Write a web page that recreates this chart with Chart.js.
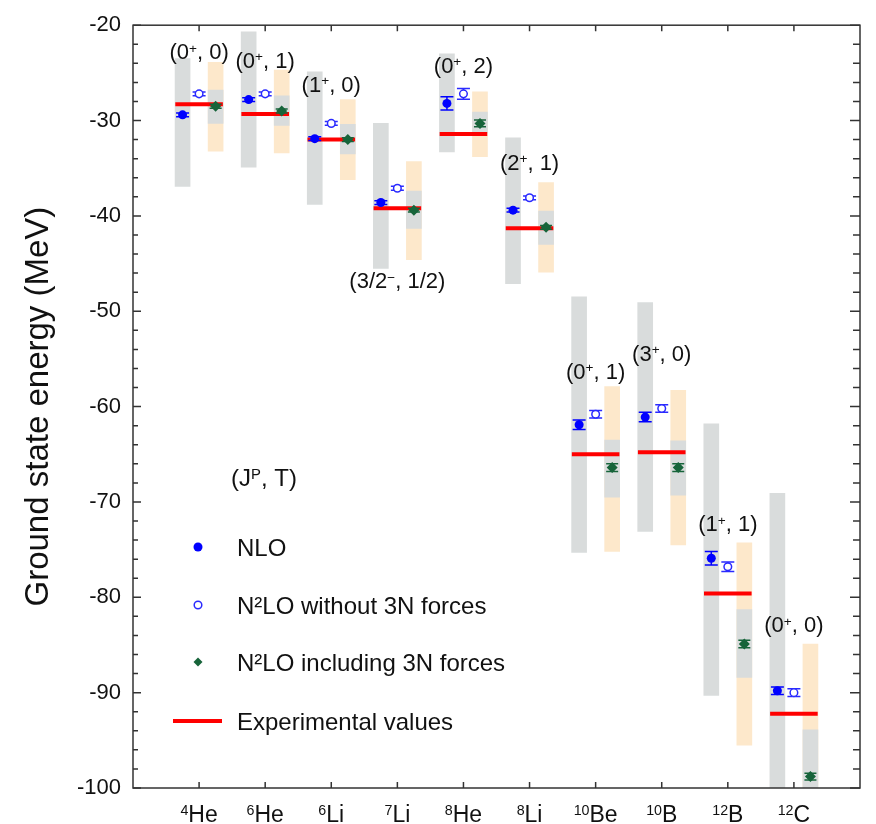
<!DOCTYPE html>
<html>
<head>
<meta charset="utf-8">
<script src="https://cdn.jsdelivr.net/npm/chart.js@4.4.1/dist/chart.umd.min.js"></script>
<style>
    html, body { margin: 0; padding: 0; background: #fff; }
</style>
</head>
<body>
<canvas id="energyChart" width="876" height="824"></canvas>
<script>
// 原子核ごとのラベル
var massNumbers = ['4', '6', '6', '7', '8', '8', '10', '10', '12', '12'];
var elements = ['He', 'He', 'Li', 'Li', 'He', 'Li', 'Be', 'B', 'B', 'C'];
var spins = ['0', '0', '1', '3/2', '0', '2', '0', '3', '1', '0'];
var parities = ['+', '+', '+', '−', '+', '+', '+', '+', '+', '+'];
var isospins = ['0', '1', '0', '1/2', '2', '1', '1', '0', '1', '0'];

// NLO の不確かさ幅 (MeV)
var nloBandLow = [-36.9, -34.9, -38.8, -45.5, -33.3, -47.1, -75.3, -73.1, -90.3, -110.0];
var nloBandHigh = [-23.5, -20.7, -24.9, -30.3, -23.0, -31.8, -48.5, -49.1, -61.8, -69.1];

// N2LO の不確かさ幅 (外側) と 3N 力込みの幅 (内側)
var n2loBandLow = [-33.2, -33.4, -36.2, -44.6, -33.8, -45.9, -75.2, -74.5, -95.5, -112.0];
var n2loBandHigh = [-23.9, -24.7, -27.8, -34.3, -27.0, -36.5, -57.9, -58.3, -74.3, -84.9];
var n2lo3nBandLow = [-30.3, -30.5, -33.5, -41.3, -31.3, -43.0, -69.5, -69.3, -88.4, -103.7];
var n2lo3nBandHigh = [-26.8, -27.4, -30.4, -37.4, -29.1, -39.5, -63.5, -63.6, -81.3, -93.9];

// 中心値と統計誤差
var nloValues = [-29.4, -27.8, -31.9, -38.6, -28.2, -39.4, -61.9, -61.1, -75.9, -89.8];
var nloErrors = [0.2, 0.2, 0.2, 0.2, 0.7, 0.2, 0.5, 0.5, 0.7, 0.4];
var n2loValues = [-27.2, -27.2, -30.3, -37.1, -27.2, -38.1, -60.8, -60.2, -76.8, -90.0];
var n2loErrors = [0.2, 0.2, 0.2, 0.2, 0.57, 0.2, 0.4, 0.4, 0.5, 0.4];
var n2lo3nValues = [-28.5, -29.0, -32.0, -39.4, -30.3, -41.2, -66.4, -66.4, -84.9, -98.8];
var n2lo3nErrors = [0.2, 0.2, 0.2, 0.2, 0.35, 0.2, 0.4, 0.4, 0.4, 0.35];

// 実験値
var expValues = [-28.3, -29.3, -32.0, -39.2, -31.4, -41.3, -65.0, -64.8, -79.6, -92.2];

// 縦軸の目盛りラベル
var yTickLabels = [-20, -30, -40, -50, -60, -70, -80, -90, -100];

var FONT = '"Liberation Sans", Arial, sans-serif';
var TEXT = '#111';
Chart.defaults.font.family = FONT;

// 量子数ラベルの縦位置 (MeV)
var tagY = [-22.8, -23.7, -26.2, -46.8, -24.2, -34.4, -56.3, -54.4, -72.3, -82.9];

// 上付き文字を含むテキストを描く
var drawRich = function (ctx, parts, x, y, size, align) {
    var supSize = size * 0.62;
    var widths = parts.map(function (p) {
        ctx.font = (p[1] ? supSize : size) + 'px ' + FONT;
        return ctx.measureText(p[0]).width;
    });
    var total = widths.reduce(function (a, b) { return a + b; }, 0);
    var cx = align === 'center' ? x - total / 2 : x;
    ctx.textAlign = 'left';
    ctx.textBaseline = 'alphabetic';
    parts.forEach(function (p, i) {
        ctx.font = (p[1] ? supSize : size) + 'px ' + FONT;
        ctx.fillText(p[0], cx, p[1] ? y - size * 0.3 : y);
        cx += widths[i];
    });
};

var bandData = function (low, high, shift) {
    return low.map(function (v, i) { return { x: i + shift, y: [v, high[i]] }; });
};
var pointData = function (values, shift) {
    return values.map(function (v, i) { return { x: i + shift, y: v }; });
};
var expData = [];
expValues.forEach(function (v, i) {
    expData.push({ x: i - 0.36, y: v }, { x: i + 0.36, y: v }, { x: i + 0.5, y: null });
});

// 誤差棒
var errorBars = {
    id: 'errorBars',
    beforeDatasetDraw: function (chart, args) {
        var ds = chart.data.datasets[args.index];
        if (!ds.errors) return;
        var ctx = chart.ctx, yScale = chart.scales.y;
        ctx.save();
        ctx.strokeStyle = ds.borderColor;
        ctx.lineWidth = 1.5;
        args.meta.data.forEach(function (pt, i) {
            var v = ds.data[i].y, e = ds.errors[i];
            var top = yScale.getPixelForValue(v + e), bot = yScale.getPixelForValue(v - e);
            var w = ds.capWidth / 2;
            ctx.beginPath();
            ctx.moveTo(pt.x, top); ctx.lineTo(pt.x, bot);
            ctx.moveTo(pt.x - w, top); ctx.lineTo(pt.x + w, top);
            ctx.moveTo(pt.x - w, bot); ctx.lineTo(pt.x + w, bot);
            ctx.stroke();
        });
        ctx.restore();
    }
};

// 枠と内向きの目盛り
var frame = {
    id: 'frame',
    afterDatasetsDraw: function (chart) {
        var ctx = chart.ctx, ca = chart.chartArea;
        var xScale = chart.scales.x, yScale = chart.scales.y;
        ctx.save();
        ctx.strokeStyle = '#333';
        ctx.lineWidth = 1.5;
        ctx.strokeRect(ca.left, ca.top, ca.right - ca.left, ca.bottom - ca.top);
        ctx.beginPath();
        yScale.ticks.forEach(function (t) {
            var y = yScale.getPixelForValue(t.value);
            var major = yTickLabels.indexOf(t.value) >= 0;
            ctx.moveTo(ca.left, y); ctx.lineTo(ca.left + (major ? 8 : 5), y);
            ctx.moveTo(ca.right, y); ctx.lineTo(ca.right - (major ? 10 : 7), y);
        });
        elements.forEach(function (el, i) {
            var x = xScale.getPixelForValue(i);
            ctx.moveTo(x, ca.bottom); ctx.lineTo(x, ca.bottom - 6);
            ctx.moveTo(x, ca.top); ctx.lineTo(x, ca.top + 6);
        });
        ctx.stroke();
        ctx.restore();
    }
};

// 原子核名・量子数・凡例
var texts = {
    id: 'texts',
    afterDraw: function (chart) {
        var ctx = chart.ctx, ca = chart.chartArea;
        var xScale = chart.scales.x, yScale = chart.scales.y;
        ctx.save();
        ctx.fillStyle = TEXT;

        elements.forEach(function (el, i) {
            var x = xScale.getPixelForValue(i);
            drawRich(ctx, [[massNumbers[i], true], [el, false]], x, ca.bottom + 34, 23, 'center');
            drawRich(ctx, [['(' + spins[i], false], [parities[i], true], [', ' + isospins[i] + ')', false]],
                x, yScale.getPixelForValue(tagY[i]) + 7.5, 22, 'center');
        });

        // 凡例
        var lx = ca.left + 65, tx = ca.left + 104;
        drawRich(ctx, [['(J', false], ['P', true], [', T)', false]], ca.left + 131, 486, 24, 'center');

        ctx.fillStyle = '#0000ff';
        ctx.beginPath(); ctx.arc(lx, 547, 4.5, 0, Math.PI * 2); ctx.fill();

        ctx.strokeStyle = '#2a2aff'; ctx.lineWidth = 1.5; ctx.fillStyle = '#fff';
        ctx.beginPath(); ctx.arc(lx, 605, 3.8, 0, Math.PI * 2); ctx.fill(); ctx.stroke();

        ctx.fillStyle = '#17643a';
        ctx.beginPath();
        ctx.moveTo(lx, 657.5); ctx.lineTo(lx + 4.5, 662); ctx.lineTo(lx, 666.5); ctx.lineTo(lx - 4.5, 662);
        ctx.closePath(); ctx.fill();

        ctx.strokeStyle = '#ff0000'; ctx.lineWidth = 4;
        ctx.beginPath(); ctx.moveTo(ca.left + 40, 721); ctx.lineTo(ca.left + 89, 721); ctx.stroke();

        ctx.fillStyle = TEXT;
        drawRich(ctx, [['NLO', false]], tx, 555.5, 24, 'left');
        drawRich(ctx, [['N²LO without 3N forces', false]], tx, 613.5, 24, 'left');
        drawRich(ctx, [['N²LO including 3N forces', false]], tx, 670.5, 24, 'left');
        drawRich(ctx, [['Experimental values', false]], tx, 729.5, 24, 'left');
        ctx.restore();
    }
};

var ctx = document.getElementById('energyChart');
new Chart(ctx, {
    type: 'bar',
    data: {
        datasets: [{
            type: 'line',
            label: 'NLO',
            data: pointData(nloValues, -0.25),
            errors: nloErrors,
            capWidth: 13,
            showLine: false,
            pointStyle: 'circle',
            pointRadius: 4.5,
            backgroundColor: '#0000ff',
            borderColor: '#0000ff',
            pointBorderWidth: 0,
            order: 0
        }, {
            type: 'line',
            label: 'N2LO without 3N forces',
            data: pointData(n2loValues, 0),
            errors: n2loErrors,
            capWidth: 13,
            showLine: false,
            pointStyle: 'circle',
            pointRadius: 3.8,
            backgroundColor: '#ffffff',
            borderColor: '#2a2aff',
            pointBorderWidth: 1.5,
            order: 0
        }, {
            type: 'line',
            label: 'N2LO including 3N forces',
            data: pointData(n2lo3nValues, 0.25),
            errors: n2lo3nErrors,
            capWidth: 12,
            showLine: false,
            pointStyle: 'rectRot',
            pointRadius: 5.5,
            backgroundColor: '#17643a',
            borderColor: '#17643a',
            pointBorderWidth: 0,
            order: 0
        }, {
            type: 'line',
            label: 'Experimental values',
            data: expData,
            borderColor: '#ff0000',
            borderWidth: 4,
            borderCapStyle: 'butt',
            pointRadius: 0,
            spanGaps: false,
            order: 1
        }, {
            label: 'N2LO 3N band',
            data: bandData(n2lo3nBandLow, n2lo3nBandHigh, 0.25),
            backgroundColor: '#d9dcdc',
            barThickness: 15,
            grouped: false,
            order: 2
        }, {
            label: 'N2LO band',
            data: bandData(n2loBandLow, n2loBandHigh, 0.25),
            backgroundColor: '#fde8cb',
            barThickness: 15,
            grouped: false,
            order: 3
        }, {
            label: 'NLO band',
            data: bandData(nloBandLow, nloBandHigh, -0.25),
            backgroundColor: '#d9dcdc',
            barThickness: 15,
            grouped: false,
            order: 4
        }]
    },
    options: {
        responsive: false,
        animation: false,
        events: [],
        layout: {
            padding: { left: 0, right: 16, top: 14, bottom: 0 }
        },
        plugins: {
            legend: { display: false },
            tooltip: { enabled: false }
        },
        scales: {
            x: {
                type: 'linear',
                min: -1,
                max: 10,
                offset: false,
                afterFit: function (scale) { scale.height = 36; },
                ticks: { display: false },
                grid: { display: false },
                border: { display: false }
            },
            y: {
                min: -100,
                max: -20,
                afterFit: function (scale) { scale.width = 133; },
                grid: { display: false, drawTicks: false },
                border: { display: false },
                ticks: {
                    stepSize: 2,
                    autoSkip: false,
                    padding: 12,
                    color: TEXT,
                    font: { size: 22 },
                    callback: function (v) {
                        return yTickLabels.indexOf(v) >= 0 ? String(v) : '';
                    }
                },
                title: {
                    display: true,
                    text: 'Ground state energy (MeV)',
                    color: TEXT,
                    font: { size: 33, lineHeight: 1.2 },
                    padding: { top: 19, bottom: 0 }
                }
            }
        }
    },
    plugins: [errorBars, frame, texts]
});
</script>
</body>
</html>
